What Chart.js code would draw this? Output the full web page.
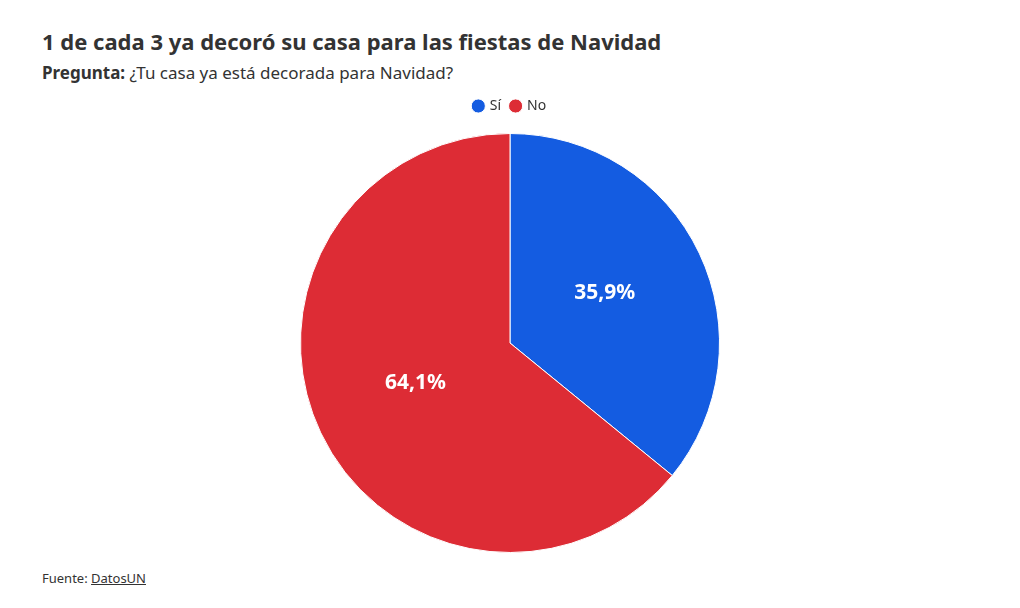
<!DOCTYPE html>
<html>
<head>
<meta charset="utf-8">
<script src="https://cdn.jsdelivr.net/npm/chart.js@4"></script>
<style>
  body { margin: 0; width: 1020px; height: 608px; background: #fff; font-family: "Noto Sans", sans-serif; color: #333; position: relative; overflow: hidden; }
  h1 { position: absolute; left: 42px; top: 26px; margin: 0; font-size: 22px; font-weight: 700; color: #333; }
  .sub { position: absolute; left: 42px; top: 61px; font-size: 17px; color: #333; }
  .src { position: absolute; left: 42px; top: 569px; font-size: 13px; color: #333; }
  .src span { text-decoration: underline; }
  #wrap { position: absolute; left: 0; top: 89px; width: 1020px; height: 464px; }
</style>
</head>
<body>
<h1>1 de cada 3 ya decoró su casa para las fiestas de Navidad</h1>
<div class="sub"><b>Pregunta:</b> ¿Tu casa ya está decorada para Navidad?</div>
<div id="wrap"><canvas id="pie"></canvas></div>
<div class="src">Fuente: <span>DatosUN</span></div>
<script>
const labels = ["Sí", "No"];
const values = [35.9, 64.1];
const colors = ["#145ce1", "#dd2c35"];

// draw the percentage inside each slice
const sliceLabels = {
    id: "sliceLabels",
    afterDatasetsDraw(chart) {
        const ctx = chart.ctx;
        const meta = chart.getDatasetMeta(0);
        ctx.save();
        ctx.font = "bold 21px 'Noto Sans', sans-serif";
        ctx.fillStyle = "#fff";
        ctx.textAlign = "center";
        ctx.textBaseline = "middle";
        meta.data.forEach((arc, i) => {
            const p = arc.tooltipPosition();
            ctx.fillText(values[i].toFixed(1).replace(".", ",") + "%", p.x, p.y - 5);
        });
        ctx.restore();
    }
};

// a bit more room between legend and pie
const legendGap = {
    id: "legendGap",
    beforeInit(chart) {
        const fit = chart.legend.fit;
        chart.legend.fit = function () {
            fit.bind(chart.legend)();
            this.height += 10;
        };
    }
};

new Chart(document.getElementById("pie"), {
    type: "pie",
    data: {
        labels: labels,
        datasets: [{
            data: values,
            backgroundColor: colors,
            borderColor: "#fff",
            borderWidth: 1
        }]
    },
    options: {
        responsive: true,
        maintainAspectRatio: false,
        animation: false,
        plugins: {
            legend: {
                position: "top",
                labels: {
                    usePointStyle: true,
                    pointStyle: "circle",
                    boxWidth: 9,
                    boxHeight: 10,
                    padding: 10,
                    color: "#333",
                    font: { family: "'Noto Sans', sans-serif", size: 14 }
                }
            },
            tooltip: { enabled: false }
        }
    },
    plugins: [sliceLabels, legendGap]
});
</script>
</body>
</html>
